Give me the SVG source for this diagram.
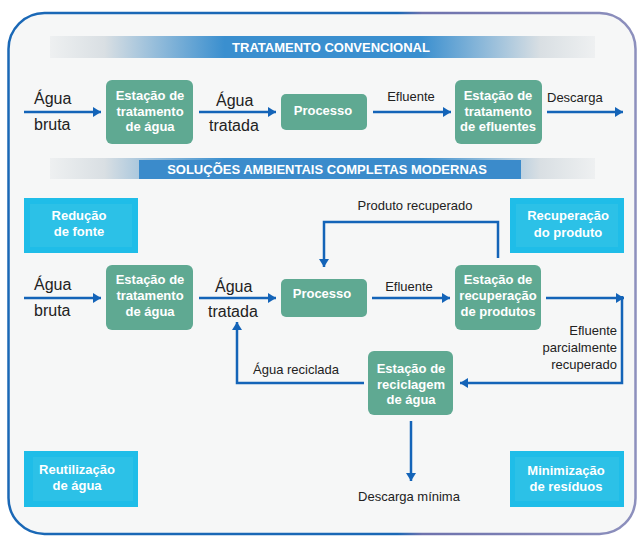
<svg xmlns="http://www.w3.org/2000/svg" width="639" height="536" viewBox="0 0 639 536">
<defs>
<style>
.lbl{font-family:"Liberation Sans",Arial,sans-serif;font-size:13px;fill:#222}
.big{font-family:"Liberation Sans",Arial,sans-serif;font-size:16px;fill:#222}
.bt{font-family:"Liberation Sans",Arial,sans-serif;font-size:13px;font-weight:bold;fill:#fff;text-anchor:middle}
.hd{font-family:"Liberation Sans",Arial,sans-serif;font-size:13px;font-weight:bold;fill:#fff;text-anchor:middle}
.gbox{fill:#5fa992}
.cbox{fill:#1fbde8}
.cin{fill:#2cc1e7}
.con{fill:none;stroke:#1464b8;stroke-width:2.5}
</style>
<marker id="ah" markerUnits="userSpaceOnUse" markerWidth="9" markerHeight="10" refX="8" refY="5" orient="auto">
<path d="M0,0 L8,5 L0,10 z" fill="#1464b8"/>
</marker>
<linearGradient id="frame" x1="0" y1="0" x2="1" y2="0">
<stop offset="0" stop-color="#1a68b6"/>
<stop offset="0.62" stop-color="#1a68b6"/>
<stop offset="0.66" stop-color="#6e72ad"/>
<stop offset="1" stop-color="#8d90bd"/>
</linearGradient>
<linearGradient id="band" x1="0" y1="0" x2="1" y2="0">
<stop offset="0" stop-color="#eef0f1"/>
<stop offset="0.1" stop-color="#d9dfe3"/>
<stop offset="0.32" stop-color="#3a8fcf"/>
<stop offset="0.68" stop-color="#3a8fcf"/>
<stop offset="0.9" stop-color="#d9dfe3"/>
<stop offset="1" stop-color="#eef0f1"/>
</linearGradient>
</defs>
<rect x="0" y="0" width="639" height="536" fill="#ffffff"/>
<rect x="8.5" y="13" width="627" height="521" rx="36" fill="#f6f7f7" stroke="url(#frame)" stroke-width="2.5"/>

<g id="header1">
<rect x="50" y="36" width="545" height="22" fill="url(#band)"/>
<text class="hd" x="331" y="52">TRATAMENTO CONVENCIONAL</text>
</g>
<g id="header2">
<rect x="50" y="158" width="545" height="21" fill="url(#band)"/>
<rect x="139" y="160" width="382" height="19" fill="#3b8bcb"/>
<text class="hd" x="327" y="174">SOLUÇÕES AMBIENTAIS COMPLETAS MODERNAS</text>
</g>

<g id="connectors">
<path class="con" d="M24,112 H101" marker-end="url(#ah)"/>
<path class="con" d="M199,112 H276" marker-end="url(#ah)"/>
<path class="con" d="M373,112 H451" marker-end="url(#ah)"/>
<path class="con" d="M547,112 H623" marker-end="url(#ah)"/>
<path class="con" d="M24,298 H101" marker-end="url(#ah)"/>
<path class="con" d="M199,298 H276" marker-end="url(#ah)"/>
<path class="con" d="M372,298 H450" marker-end="url(#ah)"/>
<path class="con" d="M546,298 H624" marker-end="url(#ah)"/>
<path class="con" d="M622,296 V383 H460" marker-end="url(#ah)"/>
<path class="con" d="M364,383 H237 V322" marker-end="url(#ah)"/>
<path class="con" d="M498,258 V222 H324 V267" marker-end="url(#ah)"/>
<path class="con" d="M411,421 V481" marker-end="url(#ah)"/>
</g>

<g id="labels">
<text class="big" x="34" y="104">Água</text>
<text class="big" x="34" y="130">bruta</text>
<text class="big" x="216" y="106">Água</text>
<text class="big" x="209" y="131">tratada</text>
<text class="lbl" x="411" y="101" text-anchor="middle">Efluente</text>
<text class="lbl" x="547" y="102">Descarga</text>
<text class="big" x="34" y="290">Água</text>
<text class="big" x="34" y="316">bruta</text>
<text class="big" x="215" y="292">Água</text>
<text class="big" x="208" y="317">tratada</text>
<text class="lbl" x="409" y="291" text-anchor="middle">Efluente</text>
<text class="lbl" x="415" y="210" text-anchor="middle">Produto recuperado</text>
<text class="lbl" x="617" y="335" text-anchor="end">Efluente</text>
<text class="lbl" x="617" y="352" text-anchor="end">parcialmente</text>
<text class="lbl" x="617" y="369" text-anchor="end">recuperado</text>
<text class="lbl" x="253" y="374">Água reciclada</text>
<text class="lbl" x="409" y="501" text-anchor="middle">Descarga mínima</text>
</g>

<g id="n-eta1">
<rect class="gbox" x="106" y="80" width="87" height="64" rx="6"/>
<text class="bt" x="150" y="100">Estação de</text>
<text class="bt" x="150" y="116">tratamento</text>
<text class="bt" x="150" y="131">de água</text>
</g>
<g id="n-proc1">
<rect class="gbox" x="281" y="94" width="86" height="36" rx="5"/>
<text class="bt" x="323" y="115">Processo</text>
</g>
<g id="n-ete1">
<rect class="gbox" x="455" y="80" width="87" height="64" rx="6"/>
<text class="bt" x="498" y="100">Estação de</text>
<text class="bt" x="498" y="116">tratamento</text>
<text class="bt" x="498" y="131">de efluentes</text>
</g>

<g id="n-eta2">
<rect class="gbox" x="106" y="265" width="87" height="65" rx="6"/>
<text class="bt" x="150" y="284">Estação de</text>
<text class="bt" x="150" y="300">tratamento</text>
<text class="bt" x="150" y="316">de água</text>
</g>
<g id="n-proc2">
<rect class="gbox" x="281" y="279" width="86" height="38" rx="5"/>
<text class="bt" x="322" y="298">Processo</text>
</g>
<g id="n-erp">
<rect class="gbox" x="455" y="265" width="86" height="65" rx="6"/>
<text class="bt" x="498" y="284">Estação de</text>
<text class="bt" x="498" y="300">recuperação</text>
<text class="bt" x="498" y="316">de produtos</text>
</g>
<g id="n-era">
<rect class="gbox" x="368" y="351" width="85" height="64" rx="6"/>
<text class="bt" x="411" y="373">Estação de</text>
<text class="bt" x="411" y="389">reciclagem</text>
<text class="bt" x="411" y="404">de água</text>
</g>

<g id="n-reducao">
<rect class="cbox" x="24" y="198" width="114" height="55"/>
<rect class="cin" x="30" y="204" width="102" height="43"/>
<text class="bt" x="79" y="220">Redução</text>
<text class="bt" x="79" y="236">de fonte</text>
</g>
<g id="n-recuperacao">
<rect class="cbox" x="510" y="198" width="114" height="55"/>
<rect class="cin" x="516" y="204" width="102" height="43"/>
<text class="bt" x="568" y="220">Recuperação</text>
<text class="bt" x="568" y="237">do produto</text>
</g>
<g id="n-reutilizacao">
<rect class="cbox" x="24" y="451" width="114" height="56"/>
<rect class="cin" x="33" y="457" width="100" height="44"/>
<text class="bt" x="77" y="474">Reutilização</text>
<text class="bt" x="77" y="490">de água</text>
</g>
<g id="n-minimizacao">
<rect class="cbox" x="510" y="451" width="114" height="56"/>
<rect class="cin" x="515" y="457" width="104" height="44"/>
<text class="bt" x="566" y="475">Minimização</text>
<text class="bt" x="566" y="491">de resíduos</text>
</g>
</svg>
